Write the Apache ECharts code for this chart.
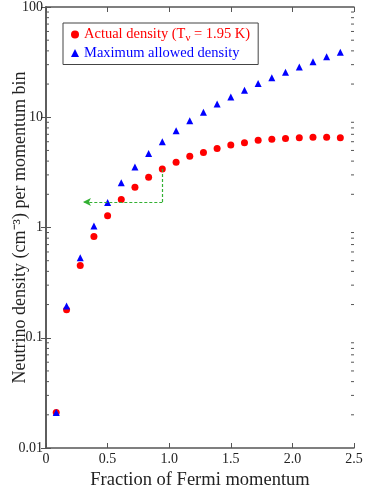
<!DOCTYPE html>
<html>
<head>
<meta charset="utf-8">
<script src="https://cdn.jsdelivr.net/npm/echarts@6/dist/echarts.min.js"></script>
<style>
html,body{margin:0;padding:0;background:#fff;}
#main{width:366px;height:490px;}
</style>
</head>
<body>
<div id="main"></div>
<script>
// momentum bins (fraction of Fermi momentum)
var momentum = [0.083, 0.167, 0.278, 0.389, 0.5, 0.611, 0.722, 0.833, 0.944, 1.056, 1.167,
    1.278, 1.389, 1.5, 1.611, 1.722, 1.833, 1.944, 2.056, 2.167, 2.278, 2.389];
var actualDensity = [0.021, 0.179, 0.453, 0.83, 1.28, 1.79, 2.32, 2.85, 3.40, 3.90, 4.42,
    4.80, 5.22, 5.6, 5.88, 6.17, 6.3, 6.43, 6.52, 6.57, 6.57, 6.52];
var maxDensity = [0.021, 0.194, 0.532, 1.03, 1.69, 2.54, 3.54, 4.70, 6.0, 7.55, 9.3,
    11.1, 13.2, 15.3, 17.6, 20.2, 22.8, 25.6, 28.6, 31.8, 35.3, 38.9];
// dashed guide: from the red point down to half its value, then left
var guideX = [0.944, 0.944, 0.30];
var guideY = [3.40, 1.70, 1.70];
// log minor ticks on left and right frame
var minorTickValues = [0.02, 0.03, 0.04, 0.05, 0.06, 0.07, 0.08, 0.09,
    0.2, 0.3, 0.4, 0.5, 0.6, 0.7, 0.8, 0.9,
    2, 3, 4, 5, 6, 7, 8, 9,
    20, 30, 40, 50, 60, 70, 80, 90];

var pairs = function (xs, ys) {
    var res = [];
    for (var i = 0; i < xs.length; i++) {
        res.push([xs[i], ys[i]]);
    }
    return res;
};

var chart = echarts.init(document.getElementById('main'));
var serif = 'Liberation Serif';
var axisCol = '#555';

var option = {
    animation: false,
    textStyle: { fontFamily: serif },
    grid: { left: 46, right: 12, top: 7, bottom: 42, outerBoundsMode: 'none', containLabel: false },
    legend: {
        left: 63, top: 23,
        orient: 'vertical',
        itemWidth: 8, itemHeight: 8, itemGap: 2,
        padding: [4, 8, 4, 8],
        borderColor: '#444', borderWidth: 1,
        backgroundColor: '#fff',
        textStyle: {
            fontFamily: serif, fontSize: 14.5,
            rich: {
                r: { color: '#ff0000', fontFamily: serif, fontSize: 14.5 },
                s: { color: '#ff0000', fontFamily: serif, fontSize: 11, padding: [7, 0, 0, 0] }
            }
        },
        data: [
            { name: 'Actual density', icon: 'circle', textStyle: { color: '#ff0000' } },
            { name: 'Maximum allowed density', icon: 'triangle', textStyle: { color: '#0000ff' } }
        ],
        formatter: function (name) {
            if (name === 'Actual density') {
                return '{r|Actual density (T}{s|ν}{r| = 1.95 K)}';
            }
            return name;
        }
    },
    xAxis: [{
        type: 'value', min: 0, max: 2.5, interval: 0.5,
        name: 'Fraction of Fermi momentum',
        nameLocation: 'middle', nameGap: 23, nameMoveOverlap: false,
        nameTextStyle: { fontFamily: serif, fontSize: 18.5, color: '#222' },
        axisLine: { lineStyle: { color: axisCol, width: 1.5 } },
        axisTick: { inside: true, length: 5, lineStyle: { color: axisCol } },
        axisLabel: {
            color: '#222', fontSize: 14, fontFamily: serif, margin: 4,
            formatter: function (v) { return v === 0 ? '0' : v.toFixed(1); }
        },
        splitLine: { show: false }
    }, {
        type: 'value', position: 'top', min: 0, max: 2.5, interval: 0.5,
        axisLine: { show: true, lineStyle: { color: axisCol, width: 1.5 } },
        axisTick: { show: true, inside: true, length: 5, lineStyle: { color: axisCol } },
        axisLabel: { show: false },
        splitLine: { show: false }
    }],
    yAxis: [{
        type: 'log', logBase: 10, min: 0.01, max: 100,
        name: 'Neutrino density (cm⁻³) per momentum bin',
        nameLocation: 'middle', nameGap: 17, nameMoveOverlap: false,
        nameTextStyle: { fontFamily: serif, fontSize: 18, color: '#222' },
        axisLine: { show: true, lineStyle: { color: axisCol, width: 1.5 } },
        axisTick: { inside: true, length: 5, lineStyle: { color: axisCol } },
        axisLabel: { color: '#222', fontSize: 14, fontFamily: serif, margin: 3 },
        splitLine: { show: false }
    }, {
        type: 'log', logBase: 10, min: 0.01, max: 100, position: 'right',
        axisLine: { show: true, lineStyle: { color: axisCol, width: 1.5 } },
        axisTick: { show: true, inside: true, length: 5, lineStyle: { color: axisCol } },
        axisLabel: { show: false },
        splitLine: { show: false }
    }],
    series: [{
        name: 'minor ticks',
        type: 'custom',
        silent: true,
        clip: false,
        data: minorTickValues.map(function (v) { return [0, v]; }),
        renderItem: function (params, api) {
            var v = api.value(1);
            var p = api.coord([0, v]);
            var q = api.coord([2.5, v]);
            var style = { stroke: axisCol, lineWidth: 1 };
            return {
                type: 'group',
                children: [
                    { type: 'line', shape: { x1: p[0], y1: p[1], x2: p[0] + 3, y2: p[1] }, style: style },
                    { type: 'line', shape: { x1: q[0] - 3, y1: q[1], x2: q[0], y2: q[1] }, style: style }
                ]
            };
        },
        z: 1
    }, {
        name: 'Actual density',
        type: 'scatter',
        symbol: 'circle', symbolSize: 7,
        itemStyle: { color: '#ff0000', opacity: 1 },
        data: pairs(momentum, actualDensity),
        z: 3
    }, {
        name: 'Maximum allowed density',
        type: 'scatter',
        symbol: 'triangle', symbolSize: 7,
        itemStyle: { color: '#0000ff', opacity: 1 },
        data: pairs(momentum, maxDensity),
        z: 4
    }, {
        name: 'guide',
        type: 'line',
        data: pairs(guideX, guideY).slice(0, 1),
        symbol: 'none',
        lineStyle: { opacity: 0 },
        markLine: {
            silent: true,
            symbol: ['none', 'none'],
            lineStyle: { color: '#33b033', type: [3, 2], width: 1.2 },
            label: { show: false },
            data: [
                [{ coord: [guideX[0], guideY[0]] }, { coord: [guideX[1], guideY[1]] }],
                [{ coord: [guideX[1], guideY[1]], symbol: 'none' },
                 { coord: [guideX[2], guideY[2]], symbol: 'arrow', symbolSize: [6, 8] }]
            ]
        },
        z: 2
    }]
};

chart.setOption(option);
window.addEventListener('resize', function () {
    chart.resize();
});
</script>
</body>
</html>
